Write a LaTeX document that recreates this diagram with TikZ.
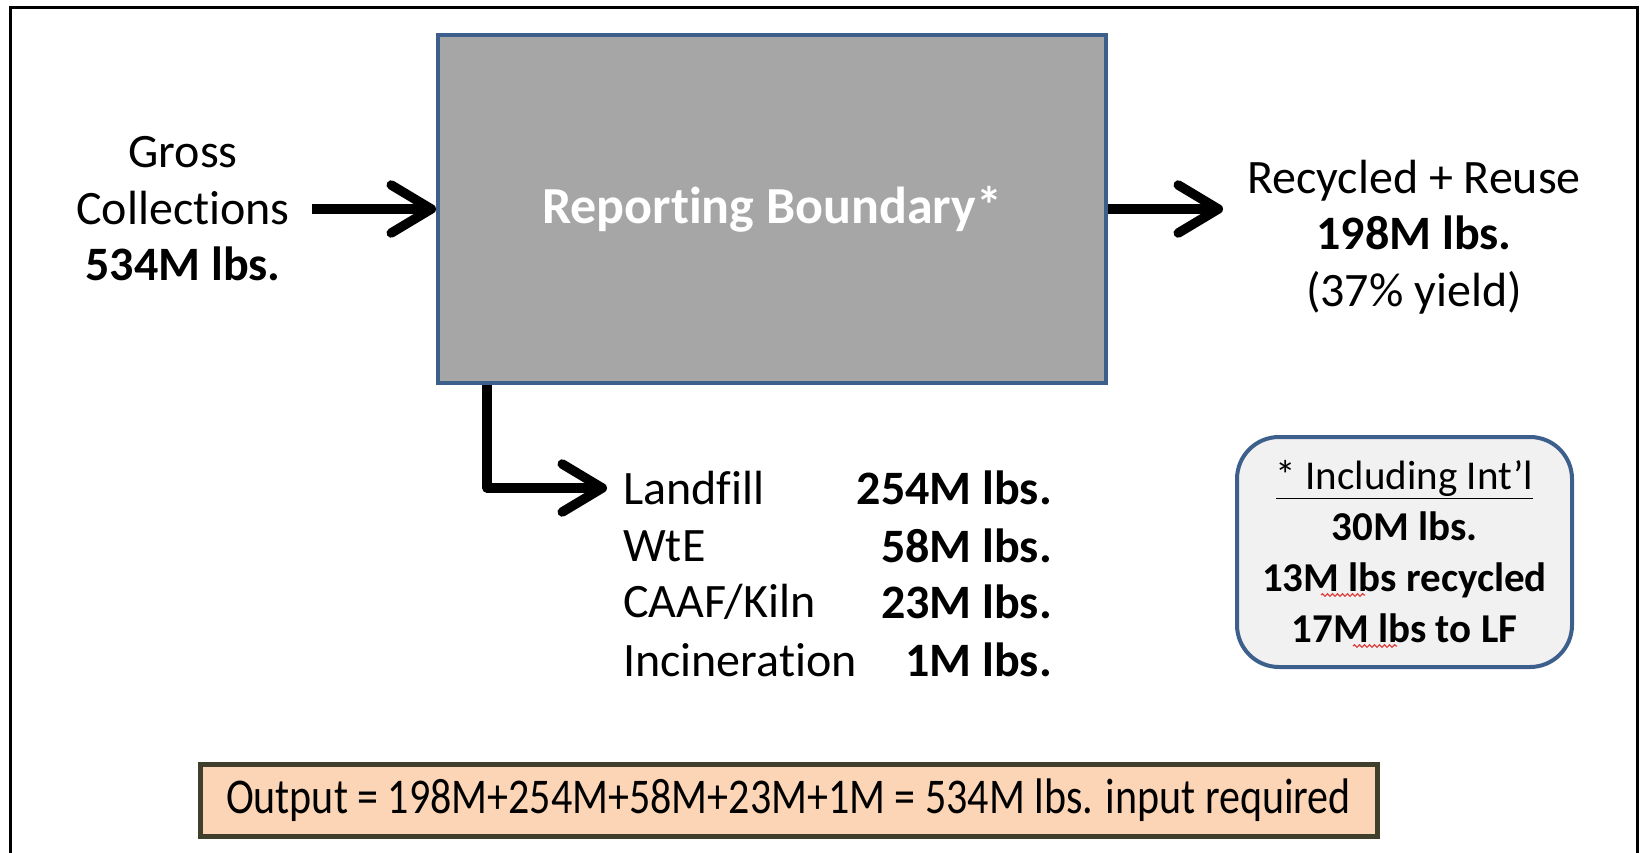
\documentclass[tikz,border=0pt]{standalone}
\usepackage{fontspec}
\setmainfont[Ligatures={NoCommon,NoContextual,NoRequired},Contextuals=NoAlternate]{Carlito}
\newfontfamily\narrowfont[FakeStretch=0.84,Ligatures={NoCommon,NoContextual,NoRequired},Contextuals=NoAlternate]{Carlito}
\newcommand\brk{\kern0pt{}}
\usetikzlibrary{arrows.meta,decorations.pathmorphing}
\definecolor{boxgray}{HTML}{A6A6A6}
\definecolor{boxblue}{HTML}{3C5F8C}
\definecolor{notefill}{HTML}{F1F1F1}
\definecolor{peach}{HTML}{FBD5B5}
\definecolor{olivedark}{HTML}{3F3F2C}
\definecolor{squig}{HTML}{E04040}
\tikzset{
  bigarrow/.style={line width=9.5pt, line join=round,
    -{Straight Barb[length=40pt, width=48pt, round, line width=9.5pt]}},
  txt/.style={font=\fontsize{48}{56.5}\selectfont, align=center, inner sep=0pt},
  listtxt/.style={font=\fontsize{48}{56.5}\selectfont, inner sep=0pt},
  squiggle/.style={draw=squig, line width=1.2pt, decorate,
    decoration={snake, amplitude=1.3pt, segment length=5pt}},
}
\begin{document}
\begin{tikzpicture}[x=1pt,y=-1pt]
\useasboundingbox (0,0) rectangle (1642,852);
% frame
\draw[line width=3pt] (10.5,860) -- (10.5,7) -- (1637,7) -- (1637,860);
% main box
\node[draw=boxblue, line width=4pt, fill=boxgray, minimum width=668pt, minimum height=348pt,
      font=\fontsize{52}{60}\selectfont\bfseries, text=white] (box) at (772,209) {Report\brk ing Boundary*};
% input
\node[txt] (gross) at (183,209) {Gross\\Collections\\\textbf{534M lbs.}};
\draw[bigarrow] ([xshift=22pt]gross.east) -- (box.west);
% output right
\node[txt] (rec) at (1414,237) {Recycled + Reuse\\\textbf{198M lbs.}\\(37\% yield)};
\coordinate (rtip) at (1223,209);
\draw[bigarrow] (box.east) -- (rtip);
% list
\node[listtxt, anchor=west] (landfill) at (623,488) {Landfill};
\node[listtxt, anchor=west] (wte) at (623,546) {WtE};
\node[listtxt, anchor=west] (caaf) at (623,602) {CAAF/Kiln};
\node[listtxt, anchor=west] (incin) at (623,660) {Incinerat\brk ion};
\node[listtxt, anchor=east, font=\fontsize{48}{56.5}\selectfont\bfseries] (v1) at (1052,488) {254M lbs.};
\node[listtxt, anchor=east, font=\fontsize{48}{56.5}\selectfont\bfseries] (v2) at (1052,546) {58M lbs.};
\node[listtxt, anchor=east, font=\fontsize{48}{56.5}\selectfont\bfseries] (v3) at (1052,602) {23M lbs.};
\node[listtxt, anchor=east, font=\fontsize{48}{56.5}\selectfont\bfseries] (v4) at (1052,660) {1M lbs.};
\draw[bigarrow] ([xshift=51pt]box.south west) |- ([xshift=-16pt]landfill.west);
% note box
\node[draw=boxblue, line width=4pt, fill=notefill, rounded corners=42pt,
      minimum width=335pt, minimum height=230pt, align=center,
      font=\fontsize{41}{51}\selectfont] (note) at (1404.5,552)
  {\underline{* Including Int'l}\\\textbf{30M lbs.}\\\textbf{13M lbs recycled}\\\textbf{17M lbs to LF}};
% spell-check squiggles under "lbs"
\draw[squiggle] (1321,595) -- (1365,595);
\draw[squiggle] (1353,646) -- (1397,646);
% bottom equation box
\node[draw=olivedark, line width=5pt, fill=peach, minimum width=1177pt, minimum height=72pt,
      font=\narrowfont\fontsize{50}{60}\selectfont] (out) at (788.5,800)
  {Output = 198M+254M+58M+23M+1M = 534M lbs. input required};
\end{tikzpicture}
\end{document}
